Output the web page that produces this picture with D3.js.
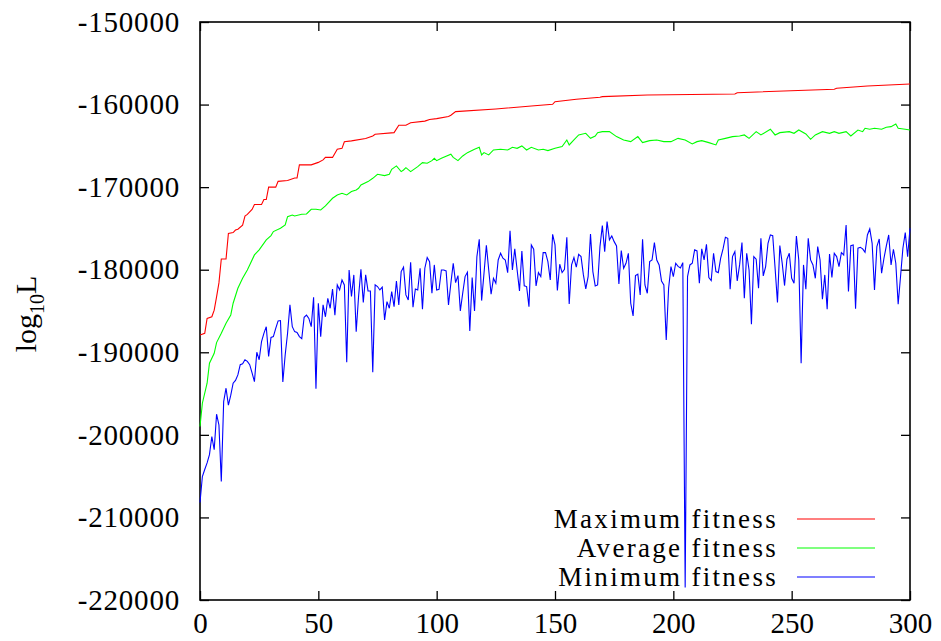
<!DOCTYPE html>
<html>
<head>
<meta charset="utf-8">
<script src="https://cdn.jsdelivr.net/npm/d3@7"></script>
<style>
  body { margin: 0; background: #fff; }
  svg text { font-family: "Liberation Serif", serif; fill: #000; }
</style>
</head>
<body>
<div id="chart"></div>
<script>
// 軸の目盛
const xTicks = [0, 50, 100, 150, 200, 250, 300];
const yTicks = [-150000, -160000, -170000, -180000, -190000, -200000, -210000, -220000];
const seriesNames = ['Maximum fitness', 'Average fitness', 'Minimum fitness'];

// 最大適応度 [世代, 値] (階段状の折れ点)
const maxFitness = [
  [0, -187900], [2, -187700], [3, -185900], [5, -185700], [6, -184900], [7, -183300],
  [8, -181600], [9, -178700], [11, -178700], [12, -175600], [14, -175500], [15, -175200],
  [16, -175100], [18, -174600], [19, -173500], [20, -173300], [22, -172700], [23, -172100],
  [26, -172100], [27, -171500], [28, -171500], [29, -170000], [32, -170000], [33, -169300],
  [37, -169200], [40, -168900], [41, -168900], [42, -167300], [47, -167300], [50, -167000],
  [52, -166700], [53, -166400], [56, -166400], [58, -165400], [60, -165300], [61, -164500],
  [64, -164400], [70, -164100], [73, -163800], [74, -163600], [82, -163400], [84, -162500],
  [87, -162500], [89, -162200], [95, -162000], [97, -161800], [100, -161700], [105, -161450],
  [106, -161300], [108, -160850], [125, -160530], [140, -160170], [149, -159970], [150, -159650],
  [159, -159360], [169, -159120], [170, -159040], [189, -158840], [226, -158720], [227, -158560],
  [268, -158150], [269, -158030], [282, -157750], [300, -157500]
];

// 平均適応度 [世代, 値]
const avgFitness = [
  [0, -198990], [1, -196170], [3, -193750], [4, -191330], [6, -190120], [7, -188830],
  [9, -187700], [11, -186480], [13, -185480], [14, -184060], [16, -182250], [18, -181040],
  [20, -180030], [21, -179420], [23, -178210], [25, -177600], [28, -176390], [30, -175870],
  [31, -175380], [34, -174980], [36, -174580], [37, -173570], [39, -173370], [40, -173490],
  [43, -173290], [45, -173250], [47, -172680], [49, -172680], [51, -172760], [53, -172280],
  [56, -171350], [58, -170950], [60, -170750], [62, -170950], [64, -170540], [66, -170340],
  [67, -170140], [68, -169740], [71, -169330], [73, -168930], [75, -168440], [78, -168600],
  [80, -168440], [81, -167840], [83, -167430], [85, -168120], [86, -167920], [87, -167640],
  [89, -168120], [92, -167520], [94, -167030], [96, -167110], [98, -166790], [99, -166510],
  [100, -166790], [102, -166510], [106, -166020], [107, -166390], [109, -166790], [111, -166220],
  [113, -165820], [116, -165420], [118, -165170], [119, -166100], [120, -165820], [122, -166100],
  [124, -165500], [127, -165420], [130, -165500], [132, -165170], [134, -165300], [136, -165010],
  [138, -165500], [140, -165170], [143, -165500], [145, -165420], [147, -165580], [150, -165300],
  [153, -165090], [155, -164290], [156, -164890], [158, -164290], [160, -163680], [163, -163480],
  [165, -164090], [167, -163800], [168, -163400], [170, -163280], [173, -163280], [176, -163880],
  [179, -164290], [182, -164490], [185, -163880], [187, -164610], [190, -164370], [193, -164290],
  [196, -164490], [199, -164490], [202, -164090], [205, -164290], [208, -164770], [210, -164490],
  [212, -164370], [215, -164610], [218, -164890], [219, -164290], [222, -164090], [225, -163880],
  [228, -163800], [230, -163680], [232, -164090], [235, -163280], [237, -163680], [241, -162990],
  [243, -163680], [245, -163400], [249, -163280], [251, -163480], [253, -163080], [256, -163560],
  [258, -164210], [260, -163680], [263, -163280], [266, -163480], [268, -163280], [270, -163480],
  [273, -163280], [275, -163800], [278, -163080], [280, -163280], [281, -162870], [283, -162990],
  [285, -162870], [288, -162990], [290, -162750], [292, -162670], [294, -162350], [295, -162870],
  [298, -162990], [300, -163080]
];

// 最小適応度 (世代 0..300)
const minFitness = [
  -208200, -205050, -204200, -203400, -202400, -200200, -201800, -197500, -198800, -205650,
  -195970, -194350, -196400, -195200, -193750, -193400, -192740, -191500, -191400, -190900,
  -191100, -191500, -192500, -193550, -190000, -190900, -188700, -187700, -186900, -190500,
  -188200, -188100, -187100, -186200, -186160, -193600, -190300, -187700, -184260, -186900,
  -187500, -187600, -188100, -188340, -185760, -185500, -185900, -186900, -183330, -194400,
  -184060, -188100, -184260, -185700, -183460, -184670, -182330, -185500, -181840, -182450,
  -181240, -181840, -191200, -180030, -183250, -180630, -187500, -183250, -179950, -183980,
  -180630, -182570, -182570, -192420, -181840, -182040, -182450, -182120, -186080, -183860,
  -184670, -182650, -184470, -181360, -184260, -180230, -179700, -183050, -183660, -179100,
  -184550, -182330, -182450, -179820, -184790, -179820, -178530, -179020, -182850, -179420,
  -182450, -182370, -180030, -180030, -180150, -184260, -181640, -179220, -181560, -180710,
  -184990, -182850, -180830, -180310, -187410, -180950, -184990, -178410, -176310, -183740,
  -180430, -177040, -180030, -182970, -181040, -181640, -178820, -178010, -178610, -178820,
  -180350, -175300, -180030, -177480, -180030, -182570, -177730, -181960, -182040, -184470,
  -177000, -177520, -181960, -180350, -180830, -177930, -177930, -179020, -181240, -175710,
  -177000, -182500, -179340, -180350, -179950, -176070, -184140, -179420, -178530, -179700,
  -178130, -178410, -180630, -182330, -180830, -175670, -180230, -181960, -181840, -177200,
  -174660, -177810, -174170, -176390, -175910, -176600, -177120, -181720, -177690, -179820,
  -179220, -178010, -184060, -185600, -180710, -180550, -183050, -176310, -181840, -182850,
  -179020, -178820, -176720, -178820, -179420, -181360, -181840, -188500, -182250, -179620,
  -180830, -179220, -179600, -179780, -179140, -218500, -180830, -179420, -179220, -177600,
  -177730, -181640, -177480, -178820, -176920, -180950, -181320, -178010, -180230, -180350,
  -178610, -177480, -176070, -176190, -182370, -178410, -177810, -181360, -179420, -176720,
  -183460, -178010, -180030, -186600, -178410, -178730, -182250, -176190, -180750, -179620,
  -176800, -175790, -175870, -179820, -183980, -177080, -179220, -181920, -178730, -178010,
  -181040, -181640, -175910, -178820, -191330, -179420, -182370, -176190, -178820, -179420,
  -181040, -177200, -178820, -183580, -180630, -184790, -178090, -180950, -178010, -178410,
  -179620, -177930, -178210, -174580, -182650, -177080, -177000, -184710, -177400, -177280,
  -177480, -177890, -175790, -175060, -176800, -182450, -177200, -176270, -180430, -178610,
  -177120, -175790, -179420, -177520, -179220, -184180, -180830, -177400, -175510, -178410,
  -174980
];

// svg領域設定
const svgWidth = 941;
const svgHeight = 641;
const margin = { top: 22, right: 31, bottom: 41, left: 200 };
const width = svgWidth - margin.left - margin.right;
const height = svgHeight - margin.top - margin.bottom;

const svg = d3.select('#chart')
  .append('svg')
  .attr('width', svgWidth)
  .attr('height', svgHeight);

const graph = svg.append('g')
  .attr('transform', `translate(${margin.left},${margin.top})`);

// scale設定
const x = d3.scaleLinear().domain([0, 300]).range([0, width]);
const y = d3.scaleLinear().domain([-220000, -150000]).range([height, 0]);

// 軸 (gnuplot風: 内向き目盛, 四辺にミラー)
const tickLen = 9;
function styleAxis(g, fontSize) {
  g.select('.domain').remove();
  g.selectAll('.tick line').attr('stroke', '#000').attr('stroke-width', 1.3);
  g.selectAll('.tick text')
    .style('font-size', fontSize + 'px')
    .style('font-family', '"Liberation Serif", serif')
    .attr('fill', '#000');
}

graph.append('g')
  .attr('transform', `translate(0,${height})`)
  .call(d3.axisBottom(x).tickValues(xTicks).tickSize(-tickLen).tickPadding(12).tickFormat(d => String(d)))
  .call(g => styleAxis(g, 29));

graph.append('g')
  .call(d3.axisTop(x).tickValues(xTicks).tickSize(-tickLen).tickFormat(''))
  .call(g => styleAxis(g, 29));

graph.append('g')
  .call(d3.axisLeft(y).tickValues(yTicks).tickSize(-tickLen).tickPadding(20).tickFormat(d => String(d)))
  .call(g => styleAxis(g, 29))
  .call(g => g.selectAll('.tick text').style('letter-spacing', '0.8px'));

graph.append('g')
  .attr('transform', `translate(${width},0)`)
  .call(d3.axisRight(y).tickValues(yTicks).tickSize(-tickLen).tickFormat(''))
  .call(g => styleAxis(g, 29));

// 枠
graph.append('rect')
  .attr('width', width)
  .attr('height', height)
  .attr('fill', 'none')
  .attr('stroke', '#000')
  .attr('stroke-width', 1.6);

// y軸ラベル
const ylab = svg.append('text')
  .attr('transform', 'translate(36,314) rotate(-90)')
  .attr('text-anchor', 'middle')
  .style('font-size', '30px');
ylab.append('tspan').text('log');
ylab.append('tspan').attr('dy', 8).style('font-size', '20px').text('10');
ylab.append('tspan').attr('dy', -8).text('L');

// 系列
const line = d3.line()
  .x(d => x(d[0]))
  .y(d => y(d[1]));

const series = [
  { name: seriesNames[0], color: '#ff0000', data: maxFitness },
  { name: seriesNames[1], color: '#00ff00', data: avgFitness },
  { name: seriesNames[2], color: '#0000ff', data: minFitness.map((v, i) => [i, v]) }
];

// 凡例
const legend = graph.append('g')
  .attr('transform', `translate(${width},${height})`);

series.forEach((s, i) => {
  const ly = -81 + i * 29;
  legend.append('text')
    .attr('x', -132)
    .attr('y', ly + 9)
    .attr('text-anchor', 'end')
    .style('font-size', '27px')
    .style('letter-spacing', '2.3px')
    .text(s.name);
  legend.append('line')
    .attr('x1', -113).attr('x2', -35)
    .attr('y1', ly).attr('y2', ly)
    .attr('stroke', s.color)
    .attr('stroke-width', 1.1);
});

series.forEach(s => {
  graph.append('path')
    .datum(s.data)
    .attr('fill', 'none')
    .attr('stroke', s.color)
    .attr('stroke-width', 1.1)
    .attr('d', line);
});
</script>
</body>
</html>
